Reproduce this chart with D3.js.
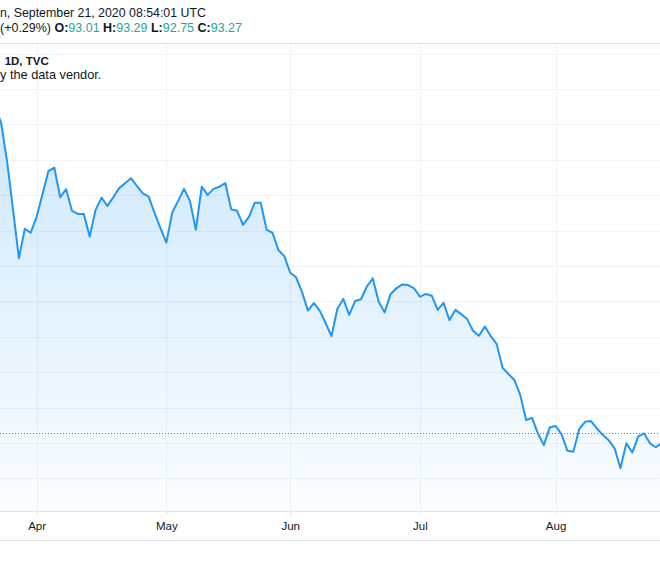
<!DOCTYPE html>
<html>
<head>
<meta charset="utf-8">
<script src="https://cdn.jsdelivr.net/npm/d3@7/dist/d3.min.js"></script>
<style>
  html, body { margin: 0; padding: 0; background: #ffffff; }
  svg { display: block; }
</style>
</head>
<body>
<svg id="chart" width="660" height="577"></svg>
<script>
// ---------------- DATA ----------------
// trading days (weekdays) from 2020-03-23 to 2020-08-28
const firstDay = "2020-03-23";
const lastDay = "2020-08-28";

// daily close values, one per trading day
const closes = [
  102.50, 102.03, 100.95, 99.60, 98.22,
  99.05, 98.94, 99.39, 100.03, 100.68,
  100.78, 99.94, 100.17, 99.56, 99.47,
  99.47, 98.83, 99.58, 99.93, 99.70,
  99.94, 100.20, 100.34, 100.48, 100.26,
  100.05, 99.96, 99.50, 99.07, 98.66,
  99.51, 99.84, 100.18, 99.84, 99.02,
  100.24, 100.01, 100.18, 100.24, 100.34,
  99.60, 99.56, 99.16, 99.39, 99.79,
  99.79, 99.02, 98.94, 98.45, 98.28,
  97.81, 97.68, 97.27, 96.74, 96.95,
  96.74, 96.39, 96.02, 96.79, 97.07,
  96.62, 97.01, 97.06, 97.42, 97.65,
  96.99, 96.69, 97.20, 97.37, 97.48,
  97.46, 97.37, 97.13, 97.21, 97.16,
  96.76, 96.96, 96.47, 96.76, 96.64,
  96.50, 96.17, 96.03, 96.29, 96.02,
  95.80, 95.13, 94.95, 94.78, 94.36,
  93.65, 93.71, 93.27, 92.94, 93.44,
  93.48, 93.25, 92.78, 92.75, 93.39,
  93.60, 93.62, 93.41, 93.23, 93.08,
  92.85, 92.29, 92.99, 92.73, 93.18,
  93.27, 92.99, 92.88, 93.00, 92.37
];

const lastPrice = 93.27;
const priceGridValues = [92, 93, 94, 95, 96, 97, 98, 99, 100, 101, 102, 103, 104];
const monthLabels = ["Apr", "May", "Jun", "Jul", "Aug"];

const headerLine1 = "n, September 21, 2020 08:54:01 UTC";
const headerChange = "(+0.29%) ";
const ohlcLabels = ["O:", "H:", "L:", "C:"];
const ohlcValues = ["93.01", "93.29", "92.75", "93.27"];
const legendTitle = "1D, TVC";
const legendNote = "y the data vendor.";

// ---------------- BUILD ----------------
const parse = d3.utcParse("%Y-%m-%d");
const days = d3.utcDay.range(parse(firstDay), d3.utcDay.offset(parse(lastDay), 1))
  .filter(d => d.getUTCDay() !== 0 && d.getUTCDay() !== 6);
const data = days.map((d, i) => ({ i, date: d, v: closes[i] }));

const W = 660;
const paneTop = 43.5, paneBottom = 511.5, axisBottom = 540.5;

const svg = d3.select("#chart");

// x: bar index scale (TradingView spaces bars evenly)
const x = d3.scaleLinear().domain([7, 95]).range([36.6, 555.6]);
const y = d3.scaleLinear().domain([92, 104]).range([478.4, 53.6]);

// month start ticks
const monthStarts = data.filter((d, k) => k > 0 && d.date.getUTCMonth() !== data[k - 1].date.getUTCMonth());
const ticks = monthStarts.map((d, k) => ({ i: d.i, label: monthLabels[k] }));

const defs = svg.append("defs");
defs.append("clipPath").attr("id", "pane")
  .append("rect").attr("x", 0).attr("y", paneTop).attr("width", W).attr("height", paneBottom - paneTop);
const grad = defs.append("linearGradient").attr("id", "fillGrad")
  .attr("gradientUnits", "userSpaceOnUse")
  .attr("x1", 0).attr("x2", 0).attr("y1", 110).attr("y2", paneBottom);
grad.append("stop").attr("offset", "0%").attr("stop-color", "#2196f3").attr("stop-opacity", 0.22);
grad.append("stop").attr("offset", "100%").attr("stop-color", "#2196f3").attr("stop-opacity", 0.02);

// grid
const grid = svg.append("g").attr("clip-path", "url(#pane)");
grid.selectAll("line.h").data(priceGridValues).join("line")
  .attr("x1", 0).attr("x2", W)
  .attr("y1", d => Math.round(y(d)) + 0.5).attr("y2", d => Math.round(y(d)) + 0.5)
  .attr("stroke", "#f0f3fa").attr("stroke-width", 1);
grid.selectAll("line.v").data(ticks).join("line")
  .attr("x1", d => Math.round(x(d.i)) + 0.5).attr("x2", d => Math.round(x(d.i)) + 0.5)
  .attr("y1", paneTop).attr("y2", paneBottom)
  .attr("stroke", "#f0f3fa").attr("stroke-width", 1);

// area + line
const plot = svg.append("g").attr("clip-path", "url(#pane)");
plot.append("path").datum(data)
  .attr("d", d3.area().x(d => x(d.i)).y0(paneBottom).y1(d => y(d.v)))
  .attr("fill", "url(#fillGrad)");
plot.append("path").datum(data)
  .attr("d", d3.line().x(d => x(d.i)).y(d => y(d.v)))
  .attr("fill", "none").attr("stroke", "#2196f3").attr("stroke-width", 2)
  .attr("stroke-linejoin", "round");

// last price dotted line
plot.append("line")
  .attr("x1", 0).attr("x2", W)
  .attr("y1", Math.round(y(lastPrice)) + 0.5).attr("y2", Math.round(y(lastPrice)) + 0.5)
  .attr("stroke", "#2196f3").attr("stroke-width", 1).attr("stroke-dasharray", "1,2");

// borders
svg.append("line").attr("x1", 0).attr("x2", W).attr("y1", paneTop).attr("y2", paneTop)
  .attr("stroke", "#e0e3eb");
svg.append("line").attr("x1", 0).attr("x2", W).attr("y1", paneBottom).attr("y2", paneBottom)
  .attr("stroke", "#e0e3eb");
svg.append("line").attr("x1", 0).attr("x2", W).attr("y1", axisBottom).attr("y2", axisBottom)
  .attr("stroke", "#e0e3eb");

// time axis
const axisG = svg.append("g").attr("transform", `translate(0,${paneBottom})`);
const axis = d3.axisBottom(x).tickValues(ticks.map(t => t.i))
  .tickFormat((d, k) => ticks[k].label).tickSize(3).tickPadding(7);
axisG.call(axis);
axisG.select(".domain").remove();
axisG.selectAll(".tick line").attr("stroke", "#e0e3eb");
axisG.selectAll(".tick text")
  .attr("fill", "#131722")
  .style("font-family", "'Liberation Sans', Arial, sans-serif")
  .style("font-size", "11.5px");

// header texts
function fit(sel, target) {
  const n = sel.node();
  const len = n.getComputedTextLength();
  const fs = parseFloat(sel.style("font-size"));
  sel.style("font-size", (fs * target / len) + "px");
}
const hdrFont = "'Liberation Sans', Arial, sans-serif";
const t1 = svg.append("text").attr("x", 0).attr("y", 16.5)
  .style("font-family", hdrFont).style("font-size", "12px").attr("fill", "#131722")
  .text(headerLine1);
fit(t1, 206);

const t2 = svg.append("text").attr("x", 0).attr("y", 32)
  .style("font-family", hdrFont).style("font-size", "12px").attr("fill", "#131722");
t2.append("tspan").text(headerChange);
ohlcLabels.forEach((lab, k) => {
  t2.append("tspan").attr("font-weight", "bold").text((k > 0 ? " " : "") + lab);
  t2.append("tspan").attr("fill", "#26a69a").text(ohlcValues[k]);
});
fit(t2, 242);

const t3 = svg.append("text").attr("x", 4.7).attr("y", 64.7)
  .style("font-family", hdrFont).style("font-size", "12px").attr("font-weight", "bold")
  .attr("fill", "#131722").text(legendTitle);
fit(t3, 44);

const t4 = svg.append("text").attr("x", 0).attr("y", 79)
  .style("font-family", hdrFont).style("font-size", "12px").attr("fill", "#131722")
  .text(legendNote);
fit(t4, 101.5);
</script>
</body>
</html>
